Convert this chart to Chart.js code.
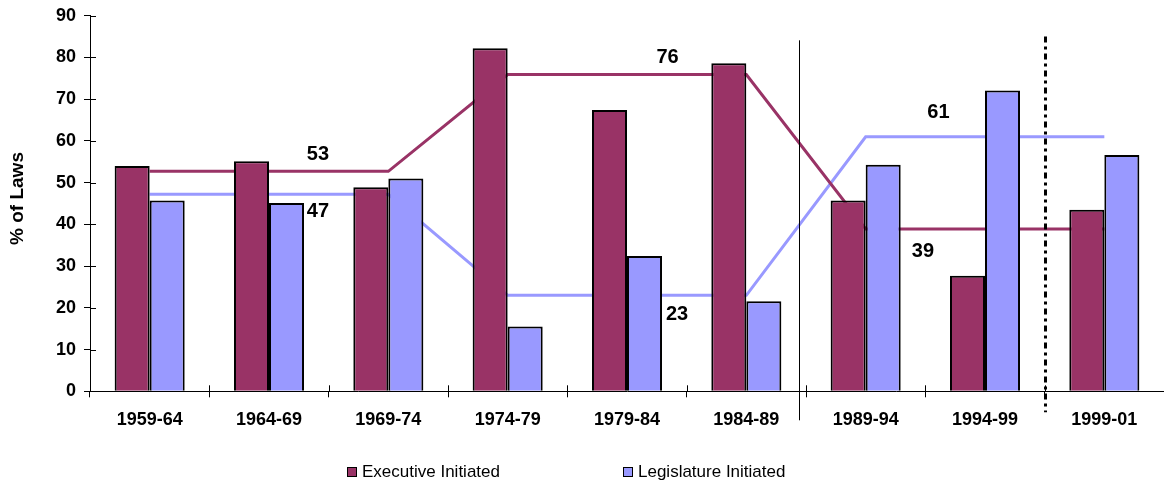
<!DOCTYPE html>
<html><head><meta charset="utf-8">
<script src="https://cdn.jsdelivr.net/npm/chart.js@4/dist/chart.umd.min.js"></script>
<style>html,body{margin:0;padding:0;background:#fff;}#wrap{width:1164px;height:487px;position:relative}</style>
</head><body><div id="wrap"><canvas id="c" width="1164" height="487"></canvas></div>
<script>
const categories = ['1959-64','1964-69','1969-74','1974-79','1979-84','1984-89','1989-94','1994-99','1999-01'];
const executiveInitiated = [54.0,55.1,48.9,82.2,67.4,78.6,45.7,27.7,43.5];
const legislatureInitiated = [45.7,45.1,51.0,15.5,32.4,21.6,54.3,72.1,56.6];
const executiveAverage = [52.7,52.7,52.7,75.9,75.9,75.9,38.9,38.9,38.9];
const legislatureAverage = [47.2,47.2,47.2,23.0,23.0,23.0,61.0,61.0,61.0];
const yTicks = [0,10,20,30,40,50,60,70,80,90];
const seriesNames = ['Executive Initiated','Legislature Initiated'];
const yTitle = '% of Laws';

const FONT = '"Liberation Sans", Arial, sans-serif';
const EXEC = '#993366', LEG = '#9999FF';

// annotation placement (category index, value) for the average labels
const averageLabels = [
  {text: String(Math.round(executiveAverage[0])), idx: 1.41, val: 56.7},
  {text: String(Math.round(legislatureAverage[0])), idx: 1.41, val: 43.0},
  {text: String(Math.round(executiveAverage[3])), idx: 4.34, val: 79.9},
  {text: String(Math.round(legislatureAverage[3])), idx: 4.42, val: 18.5},
  {text: String(Math.round(legislatureAverage[6])), idx: 6.61, val: 66.7},
  {text: String(Math.round(executiveAverage[6])), idx: 6.48, val: 33.6}
];
const dividers = [
  {idx: 5.44, top: 84.1, below: 29, width: 1, dash: []},
  {idx: 7.5, top: 85.0, below: 21, width: 3, dash: [6,4,3,4]}
];

const overlay = {
  id: 'overlay',
  afterDatasetsDraw(chart) {
    const {ctx, scales: {x, y}, chartArea} = chart;
    ctx.save();
    ctx.strokeStyle = '#000'; ctx.lineWidth = 1;
    // inner halves of crossing ticks
    y.ticks.forEach((t, i) => {
      const py = Math.round(y.getPixelForTick(i)) + 0.5;
      ctx.beginPath(); ctx.moveTo(chartArea.left, py); ctx.lineTo(chartArea.left + 6, py); ctx.stroke();
    });
    for (let i = 1; i <= categories.length; i++) {
      const px = Math.round(x.getPixelForValue(i - 0.5)) + 0.5;
      ctx.beginPath(); ctx.moveTo(px, chartArea.bottom); ctx.lineTo(px, chartArea.bottom - 6); ctx.stroke();
    }
    // divider lines
    dividers.forEach(d => {
      const px = Math.round(x.getPixelForValue(d.idx)) + (d.width % 2 ? 0.5 : 0);
      ctx.lineWidth = d.width; ctx.setLineDash(d.dash);
      ctx.beginPath(); ctx.moveTo(px, y.getPixelForValue(d.top)); ctx.lineTo(px, chartArea.bottom + d.below); ctx.stroke();
    });
    ctx.setLineDash([]);
    // average labels
    ctx.fillStyle = '#000'; ctx.font = 'bold 20px ' + FONT;
    ctx.textAlign = 'center'; ctx.textBaseline = 'middle';
    averageLabels.forEach(l => ctx.fillText(l.text, x.getPixelForValue(l.idx), y.getPixelForValue(l.val)));
    // y-axis title
    ctx.save();
    ctx.translate(18, (chartArea.top + chartArea.bottom) / 2 - 5);
    ctx.rotate(-Math.PI / 2);
    ctx.font = 'bold 19px ' + FONT;
    ctx.fillText(yTitle, 0, 0);
    ctx.restore();
    ctx.restore();
  },
  afterDraw(chart) {
    const {ctx} = chart;
    ctx.save();
    const starts = [347, 623];
    const cy = 472;
    ctx.font = '17px ' + FONT; ctx.textBaseline = 'middle'; ctx.textAlign = 'left';
    chart.data.datasets.filter(d => d.type === 'bar').forEach((d, i) => {
      const sx = starts[i];
      ctx.fillStyle = d.backgroundColor; ctx.fillRect(sx, cy - 5, 10, 10);
      ctx.strokeStyle = '#000'; ctx.lineWidth = 1; ctx.strokeRect(sx + 0.5, cy - 4.5, 9, 9);
      ctx.fillStyle = '#000'; ctx.fillText(d.label, sx + 15, cy);
    });
    ctx.restore();
  }
};

new Chart(document.getElementById('c'), {
  data: {
    labels: categories,
    datasets: [
      {type: 'bar', label: seriesNames[0], data: executiveInitiated, backgroundColor: EXEC, borderColor: '#000', borderWidth: 2, order: 1,
       categoryPercentage: 0.587, barPercentage: 1},
      {type: 'bar', label: seriesNames[1], data: legislatureInitiated, backgroundColor: LEG, borderColor: '#000', borderWidth: 2, order: 1,
       categoryPercentage: 0.587, barPercentage: 1},
      {type: 'line', label: 'Executive average', data: executiveAverage, borderColor: EXEC, borderWidth: 3, pointRadius: 0, tension: 0, fill: false, order: 2},
      {type: 'line', label: 'Legislature average', data: legislatureAverage, borderColor: LEG, borderWidth: 3, pointRadius: 0, tension: 0, fill: false, order: 2}
    ]
  },
  options: {
    responsive: false, animation: false, devicePixelRatio: 1,
    layout: {padding: {top: 15.7, right: 0, bottom: 0, left: 0}},
    plugins: {legend: {display: false}, tooltip: {enabled: false}},
    scales: {
      x: {
        type: 'category', offset: true,
        grid: {display: true, drawOnChartArea: false, drawTicks: true, tickLength: 6, color: '#000', offset: true},
        border: {display: true, color: '#000', width: 1},
        ticks: {color: '#000', font: {family: FONT, size: 18, weight: 'bold'}, padding: 12, maxRotation: 0, autoSkip: false},
        afterFit: s => { s.height = 95.7; }
      },
      y: {
        min: 0, max: 90,
        afterBuildTicks: s => { s.ticks = yTicks.map(v => ({value: v})); },
        grid: {display: true, drawOnChartArea: false, drawTicks: true, tickLength: 6, color: '#000'},
        border: {display: true, color: '#000', width: 1},
        ticks: {color: '#000', font: {family: FONT, size: 18, weight: 'bold', lineHeight: 1}, padding: 8},
        afterFit: s => { s.width = 90; s.paddingTop = 0; s.paddingBottom = 0; }
      }
    }
  },
  plugins: [overlay]
});
</script></body></html>
